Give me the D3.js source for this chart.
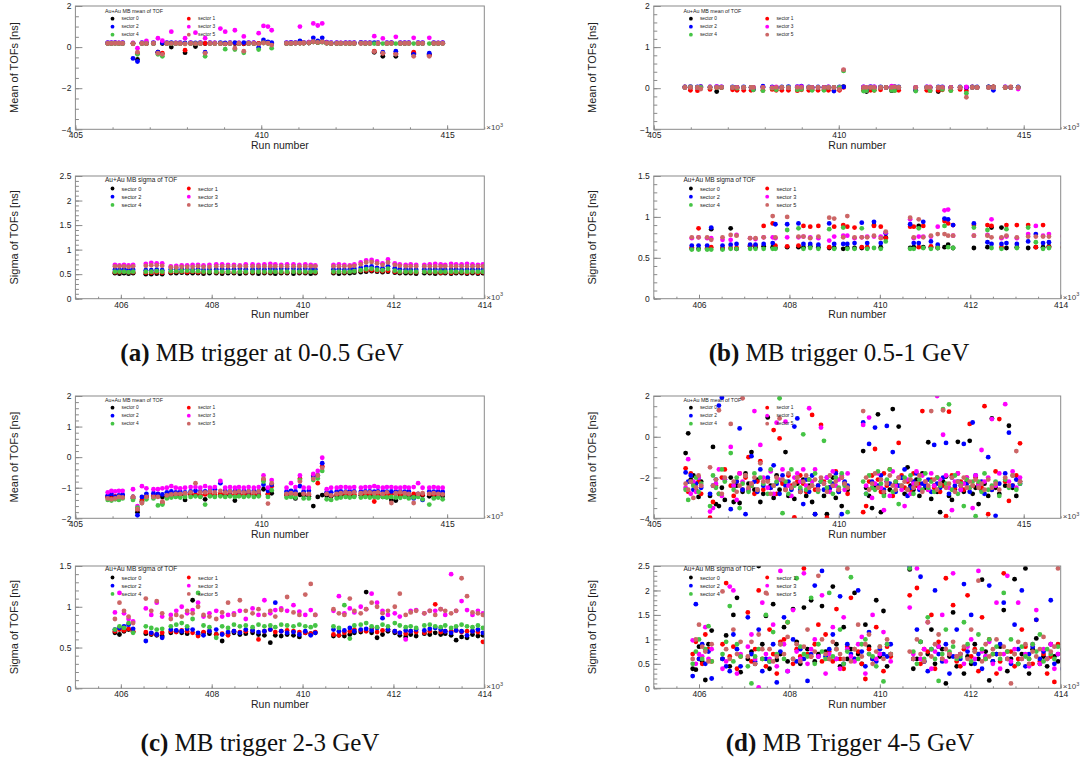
<!DOCTYPE html>
<html>
<head>
<meta charset="utf-8">
<script src="https://cdnjs.cloudflare.com/ajax/libs/d3/7.8.5/d3.min.js"></script>
<style>
  body { margin: 0; background: #fff; }
  svg { display: block; }
</style>
</head>
<body>
<script>
// ---------- data ----------
const sectors = ['sector 0', 'sector 1', 'sector 2', 'sector 3', 'sector 4', 'sector 5'];
const captionTags = ['(a)', '(b)', '(c)', '(d)'];
const captions = ['MB trigger at 0-0.5 GeV', 'MB trigger 0.5-1 GeV', 'MB trigger 2-3 GeV', 'MB Trigger 4-5 GeV'];

// run numbers (x10^3) for the 0-0.5 GeV and 2-3 GeV sets (a, c)
const runsDense = [
  405.87, 405.97, 406.07, 406.17, 406.27, 406.55, 406.67, 406.79, 406.91, 407.10,
  407.22, 407.34, 407.46, 407.58, 407.70, 407.82, 407.95, 408.10, 408.23, 408.36,
  408.49, 408.62, 408.75, 408.90, 409.03, 409.16, 409.29, 409.40, 409.53, 409.66,
  409.80, 409.93, 410.06, 410.18, 410.28, 410.68, 410.80, 410.92, 411.04, 411.14,
  411.28, 411.40, 411.52, 411.64, 411.76, 411.88, 412.03, 412.14, 412.27, 412.38,
  412.50, 412.68, 412.80, 412.92, 413.04, 413.14, 413.27, 413.38, 413.50, 413.62,
  413.74, 413.86, 413.97, 414.10, 414.22, 414.34, 414.52, 414.64, 414.76, 414.88
];
// run numbers (x10^3) for the 0.5-1 GeV set (b)
const runsSparse = [
  405.84, 405.99, 406.18, 406.27, 406.52, 406.70, 406.83, 407.13, 407.25, 407.43,
  407.63, 407.69, 407.95, 408.20, 408.31, 408.46, 408.64, 408.88, 408.99, 409.19,
  409.28, 409.44, 409.60, 409.72, 409.87, 410.02, 410.13, 410.67, 410.75, 410.86,
  410.96, 411.13, 411.28, 411.43, 411.51, 411.62, 412.08, 412.38, 412.47, 412.69,
  412.80, 413.03, 413.28, 413.45, 413.61, 413.74, 414.05, 414.18, 414.50, 414.65,
  414.85
];
// run numbers (x10^3) for the 4-5 GeV set (d)
const runsD = [
  405.86, 405.93, 406.00, 406.07, 406.14, 406.21, 406.28, 406.52, 406.60, 406.68, 406.76, 406.84, 406.92,
  407.08, 407.16, 407.24, 407.32, 407.40, 407.48, 407.56, 407.64, 407.72, 407.80, 407.88, 407.96,
  408.08, 408.16, 408.24, 408.32, 408.40, 408.48, 408.56, 408.64, 408.72, 408.80, 408.88, 408.96, 409.04, 409.12,
  409.20, 409.28, 409.36, 409.44, 409.52, 409.60, 409.68, 409.76, 409.84, 409.92, 410.00, 410.08, 410.16, 410.24,
  410.66, 410.74, 410.82, 410.90, 410.98, 411.06, 411.14, 411.22, 411.30, 411.38, 411.46, 411.54, 411.62, 411.70,
  411.78, 411.86, 411.94, 412.02, 412.10, 412.18, 412.26, 412.34, 412.42, 412.50, 412.58, 412.66, 412.74, 412.82,
  412.90, 412.98, 413.06, 413.14, 413.22, 413.30, 413.38, 413.46, 413.54, 413.62, 413.70, 413.78, 413.86, 413.94,
  414.04, 414.14, 414.24, 414.34, 414.50, 414.60, 414.70, 414.80, 414.90
];

// (a) 0-0.5 GeV, mean of TOF per sector
const meanA = [
  [0.18,0.18,0.19,0.18,0.18,0.17,-0.6,0.18,0.17,0.18, -0.25,0.17,0.18,0.0,0.18,0.18,-0.27,0.18,0.03,0.18,
   0.17,0.18,0.18,0.18,0.16,0.18,0.17,0.18,0.16,0.18, 0.18,0.17,0.22,0.2,0.16,0.18,0.18,0.19,0.2,0.19,
   0.2,0.25,0.22,0.25,0.19,0.17,0.18,0.18,0.19,0.18, 0.18,0.19,0.18,0.19,-0.25,0.18,-0.45,0.18,0.19,-0.45,
   0.18,0.18,0.19,-0.3,0.18,0.18,-0.35,0.18,0.18,0.19],
  [0.19,0.19,0.2,0.19,0.19,0.19,-0.3,0.19,0.18,0.19, -0.25,-0.3,0.19,0.19,0.19,0.18,-0.15,0.19,0.18,0.19,
   0.18,0.19,0.19,0.18,0.17,0.19,0.19,0.18,0.17,0.19, 0.19,0.18,0.22,0.2,0.18,0.19,0.19,0.2,0.2,0.2,
   0.21,0.26,0.24,0.27,0.2,0.18,0.19,0.19,0.19,0.19, 0.19,0.2,0.19,0.19,-0.2,0.19,-0.3,0.19,0.2,-0.3,
   0.19,0.19,0.19,-0.25,0.19,0.19,-0.4,0.19,0.19,0.19],
  [0.22,0.22,0.22,0.21,0.22,-0.55,-0.7,0.22,0.21,0.22, -0.25,0.21,0.22,0.22,0.21,0.22,0.2,0.22,0.21,0.22,
   -0.25,0.22,0.21,0.22,0.2,0.22,0.22,0.21,0.22,0.22, 0.22,-0.02,0.35,0.25,0.22,0.22,0.23,0.22,0.3,0.23,
   0.24,0.45,0.3,0.45,0.24,0.22,0.22,0.21,0.22,0.22, 0.22,0.23,0.22,0.22,0.22,0.22,-0.25,0.22,0.22,-0.2,
   0.22,0.22,0.22,-0.35,0.22,0.22,-0.3,0.22,0.21,0.22],
  [0.2,0.2,0.21,0.2,0.2,0.2,-0.05,0.2,0.3,0.2, 0.43,0.31,0.2,0.75,0.2,0.2,0.43,0.2,0.7,0.2,
   0.43,0.2,0.21,0.9,0.75,0.2,0.82,0.2,0.52,0.2, 0.2,0.68,1.03,1.0,0.82,0.2,0.21,0.2,1.0,0.22,
   0.24,1.15,1.05,1.15,0.22,0.2,0.2,0.2,0.2,0.21, 0.2,0.2,0.21,0.2,0.53,0.2,0.42,0.2,0.2,0.5,
   0.2,0.2,0.2,0.45,0.2,0.2,0.45,0.2,0.2,0.2],
  [0.18,0.18,0.18,0.17,0.18,0.17,-0.35,0.18,0.17,0.18, -0.35,-0.45,0.18,0.17,0.18,0.17,0.16,0.18,0.17,0.18,
   -0.45,0.18,0.17,0.17,-0.1,0.18,-0.12,0.17,-0.28,0.18, 0.17,-0.12,0.2,0.18,-0.05,0.18,0.18,0.19,0.19,0.2,
   0.21,0.25,0.22,0.24,0.19,0.18,0.18,0.18,0.18,0.18, 0.18,0.19,0.18,0.18,0.17,0.18,0.17,0.18,0.18,0.17,
   0.18,0.18,0.18,0.17,0.18,0.18,0.17,0.18,0.18,0.18],
  [0.18,0.18,0.18,0.18,0.18,0.16,-0.25,0.18,0.17,0.18, -0.3,-0.35,0.18,0.18,0.18,0.17,0.16,0.18,0.17,0.18,
   -0.3,0.18,0.17,0.18,0.16,0.18,-0.05,0.18,-0.2,0.18, 0.18,0.16,0.2,0.19,0.1,0.18,0.18,0.19,0.19,0.2,
   0.21,0.26,0.23,0.25,0.2,0.18,0.18,0.18,0.18,0.18, 0.18,0.18,0.18,0.18,-0.22,0.18,-0.3,0.18,0.18,-0.35,
   0.18,0.18,0.18,-0.45,0.18,0.18,-0.45,0.18,0.18,0.18]
];
// (a) 0-0.5 GeV, sigma of TOF per sector
const sigmaA = [
  [0.52,0.51,0.52,0.51,0.52,0.5,0.5,0.51,0.5,0.52, 0.52,0.53,0.52,0.52,0.52,0.51,0.52,0.52,0.51,0.52,
   0.52,0.51,0.52,0.52,0.51,0.52,0.52,0.51,0.52,0.52, 0.51,0.52,0.52,0.51,0.52,0.52,0.51,0.52,0.52,0.53,
   0.54,0.55,0.56,0.55,0.54,0.55,0.53,0.52,0.52,0.52, 0.51,0.52,0.52,0.51,0.52,0.52,0.51,0.52,0.52,0.51,
   0.52,0.51,0.52,0.52,0.52,0.51,0.52,0.52,0.51,0.52],
  [0.54,0.54,0.55,0.54,0.54,0.53,0.53,0.54,0.53,0.54, 0.55,0.55,0.54,0.55,0.54,0.54,0.55,0.54,0.54,0.55,
   0.54,0.55,0.54,0.54,0.55,0.54,0.54,0.55,0.54,0.54, 0.55,0.54,0.54,0.55,0.54,0.54,0.55,0.54,0.55,0.56,
   0.57,0.58,0.58,0.57,0.56,0.57,0.55,0.54,0.55,0.54, 0.54,0.55,0.54,0.54,0.53,0.54,0.53,0.54,0.54,0.53,
   0.54,0.53,0.54,0.54,0.53,0.54,0.54,0.53,0.54,0.54],
  [0.59,0.59,0.6,0.59,0.59,0.58,0.58,0.59,0.58,0.6, 0.6,0.6,0.6,0.59,0.6,0.59,0.6,0.6,0.6,0.6,
   0.6,0.61,0.6,0.6,0.61,0.6,0.61,0.6,0.61,0.61, 0.61,0.6,0.61,0.6,0.6,0.6,0.6,0.59,0.6,0.61,
   0.63,0.65,0.66,0.63,0.62,0.66,0.62,0.6,0.6,0.59, 0.59,0.6,0.59,0.6,0.59,0.59,0.59,0.6,0.59,0.59,
   0.6,0.59,0.59,0.59,0.6,0.59,0.59,0.6,0.59,0.59],
  [0.69,0.68,0.69,0.68,0.69,0.71,0.73,0.72,0.72,0.66, 0.67,0.68,0.68,0.69,0.69,0.68,0.69,0.7,0.7,0.69,
   0.69,0.68,0.7,0.7,0.69,0.7,0.71,0.7,0.69,0.7, 0.7,0.69,0.7,0.69,0.68,0.69,0.7,0.69,0.68,0.7,
   0.74,0.78,0.79,0.76,0.72,0.8,0.72,0.7,0.69,0.7, 0.69,0.69,0.7,0.71,0.7,0.69,0.71,0.7,0.7,0.71,
   0.7,0.69,0.7,0.7,0.69,0.7,0.7,0.69,0.7,0.69],
  [0.55,0.55,0.55,0.54,0.55,0.55,0.55,0.56,0.55,0.56, 0.56,0.56,0.57,0.56,0.56,0.55,0.55,0.55,0.55,0.55,
   0.55,0.55,0.55,0.55,0.55,0.55,0.55,0.55,0.55,0.55, 0.55,0.55,0.55,0.55,0.55,0.55,0.55,0.55,0.55,0.56,
   0.58,0.6,0.61,0.59,0.58,0.61,0.57,0.55,0.55,0.55, 0.55,0.55,0.55,0.55,0.55,0.55,0.55,0.55,0.55,0.55,
   0.55,0.55,0.55,0.55,0.55,0.55,0.55,0.55,0.55,0.55],
  [0.66,0.66,0.66,0.65,0.66,0.67,0.68,0.68,0.67,0.64, 0.64,0.65,0.65,0.65,0.66,0.65,0.65,0.66,0.66,0.66,
   0.66,0.66,0.66,0.66,0.66,0.66,0.66,0.66,0.66,0.66, 0.66,0.66,0.66,0.66,0.66,0.66,0.66,0.66,0.66,0.67,
   0.7,0.74,0.75,0.72,0.69,0.74,0.69,0.67,0.66,0.66, 0.66,0.66,0.66,0.66,0.66,0.66,0.66,0.66,0.66,0.66,
   0.66,0.66,0.66,0.66,0.66,0.66,0.66,0.66,0.66,0.66]
];

// (b) 0.5-1 GeV, mean of TOF per sector
const meanB = [
  [0.02,0.02,0.02,0.03,0.02,-0.08,0.02,0.02,0.02,0.02, 0.02,0.02,0.02,0.02,0.02,0.02,0.02,0.02,0.02,0.02,
   0.02,0.02,0.02,0.02,0.02,0.02,0.04,0.02,-0.08,0.02, 0.02,0.02,0.02,-0.06,0.02,0.02,0.02,0.02,0.02,-0.08,
   0.02,0.02,0.02,0.02,0.02,0.02,0.03,0.03,0.02,0.02, 0.02],
  [0.03,-0.05,-0.06,0.02,-0.03,0.02,0.02,-0.04,-0.05,-0.05, -0.05,-0.04,-0.05,-0.03,-0.05,-0.05,-0.05,-0.06,-0.04,-0.05,
   -0.04,-0.05,-0.04,-0.05,-0.05,-0.05,0.02,-0.05,-0.06,-0.05, -0.05,-0.04,0.02,-0.04,-0.05,-0.05,-0.05,-0.05,-0.06,-0.05,
   -0.04,-0.05,-0.03,-0.06,0.03,0.02,0.02,0.03,0.02,0.03, 0.02],
  [0.03,0.04,0.03,0.04,0.03,0.04,0.03,0.03,0.02,0.03, 0.02,-0.03,0.05,0.03,0.02,0.03,0.04,0.04,0.05,0.03,
   0.02,0.03,0.02,0.03,-0.07,0.03,0.03,0.03,-0.05,0.04, 0.03,0.03,0.02,0.03,0.04,0.03,-0.05,0.03,0.02,0.03,
   0.03,0.02,0.03,0.02,0.03,0.03,0.03,-0.05,0.03,0.02, 0.03],
  [0.02,0.03,0.02,0.03,0.03,0.04,0.03,0.02,0.02,0.02, 0.02,0.02,0.02,0.02,0.03,0.02,0.02,0.03,0.04,0.02,
   0.02,0.02,0.02,0.03,0.02,0.02,0.44,0.03,0.02,0.03, 0.03,0.02,0.02,0.05,0.03,0.02,0.02,0.03,0.03,0.02,
   0.02,0.02,0.02,0.03,0.02,0.02,0.02,0.02,0.03,0.02, -0.02],
  [0.02,0.03,0.02,0.02,0.02,0.02,0.02,0.02,0.0,0.02, 0.02,-0.04,-0.06,0.0,-0.04,0.02,0.02,-0.04,-0.03,0.02,
   -0.05,0.02,-0.05,0.02,0.02,0.02,0.42,-0.07,-0.06,0.02, -0.05,0.02,0.02,-0.05,-0.06,0.02,-0.07,0.02,-0.06,0.02,
   -0.03,-0.06,0.02,-0.12,0.02,0.02,0.02,0.02,0.02,0.02, 0.02],
  [0.02,0.02,0.02,-0.02,0.02,0.02,0.02,0.02,0.02,0.02, 0.02,0.02,0.02,0.01,0.02,0.02,0.01,0.02,0.02,0.02,
   0.02,0.02,0.02,0.02,0.02,-0.03,0.45,0.02,0.02,0.02, 0.02,0.02,0.02,0.02,0.03,0.02,0.02,0.02,0.02,0.02,
   0.02,0.02,0.02,-0.22,0.02,0.02,0.02,0.02,0.02,0.02, 0.02]
];
// (b) 0.5-1 GeV, sigma of TOF per sector
const sigmaB = [
  [0.61,0.61,0.61,0.85,0.61,0.86,0.61,0.64,0.63,0.64, 0.63,0.62,0.63,0.63,0.63,0.64,0.63,0.62,0.62,0.61,
   0.62,0.62,0.62,0.62,0.9,0.63,0.75,0.62,0.63,0.89, 0.63,0.63,0.62,0.63,0.66,0.62,0.62,0.63,0.87,0.87,
   0.62,0.63,0.62,0.63,0.63,0.64,0.63,0.62,0.63,0.62, 0.63],
  [0.63,0.86,0.62,0.63,0.62,0.62,0.62,0.65,0.65,0.89, 0.92,0.65,0.64,0.65,0.89,0.88,0.89,0.63,0.88,0.9,
   0.88,0.87,0.63,0.63,0.89,0.88,0.74,0.88,0.88,0.63, 0.89,0.64,0.63,0.95,0.92,0.9,0.9,0.9,0.89,0.63,
   0.9,0.9,0.9,0.63,0.9,0.63,0.63,0.9,0.63,0.88, 0.63],
  [0.65,0.65,0.65,0.87,0.65,0.66,0.67,0.66,0.66,0.67, 0.68,0.91,0.91,0.92,0.67,0.67,0.66,0.92,0.67,0.67,
   0.67,0.68,0.93,0.68,0.94,0.68,0.8,0.91,0.68,0.68, 0.94,0.7,0.66,0.98,0.97,0.9,0.92,0.69,0.67,0.67,
   0.68,0.67,0.7,0.79,0.68,0.69,0.68,0.7,0.67,0.68, 0.68],
  [0.74,0.75,0.74,0.74,0.72,0.72,0.78,0.74,0.73,0.75, 0.75,0.74,0.75,0.75,0.76,0.75,0.74,0.71,0.76,0.77,
   0.77,0.74,0.75,0.76,0.76,0.76,0.81,0.97,0.74,0.76, 0.76,0.76,0.88,1.08,1.09,0.77,0.77,0.78,0.97,0.74,
   0.76,0.74,0.79,0.89,0.77,0.79,0.77,0.78,0.76,0.77, 0.78],
  [0.6,0.6,0.6,0.6,0.6,0.61,0.61,0.61,0.61,0.61, 0.61,0.61,0.84,0.86,0.61,0.62,0.61,0.85,0.61,0.87,
   0.61,0.61,0.86,0.61,0.62,0.61,0.7,0.61,0.61,0.86, 0.62,0.61,0.62,0.89,0.63,0.62,0.87,0.84,0.62,0.61,
   0.85,0.62,0.87,0.69,0.61,0.62,0.61,0.62,0.61,0.62, 0.61],
  [0.75,0.75,0.75,0.72,0.75,0.78,0.77,0.74,0.74,0.75, 1.01,0.75,1.0,0.76,0.76,0.74,0.76,0.99,0.98,0.75,
   1.01,0.75,0.75,0.75,0.77,0.74,0.82,0.99,0.75,0.97, 0.75,0.77,0.79,0.79,0.77,0.77,0.77,0.77,0.75,0.75,
   0.77,0.75,0.76,0.76,0.76,0.76,0.76,0.77,0.75,0.76, 0.76]
];

// (c) 2-3 GeV, mean of TOF per sector
const meanC = [
  [-1.3,-1.28,-1.32,-1.3,-1.27,-1.35,-1.8,-1.45,-1.3,-1.28, -1.25,-1.3,-1.27,-1.24,-1.26,-1.25,-1.4,-1.23,-1.25,-1.27,
   -1.38,-1.24,-1.26,-1.22,-1.25,-1.25,-1.42,-1.23,-1.26,-1.22, -1.24,-1.25,-1.05,-1.22,-1.18,-1.24,-1.22,-1.35,-1.23,-1.25,
   -1.28,-1.6,-1.3,-1.24,-1.26,-1.28,-1.27,-1.25,-1.24,-1.26, -1.27,-1.25,-1.24,-1.26,-1.27,-1.25,-1.3,-1.28,-1.4,-1.42,
   -1.26,-1.24,-1.25,-1.27,-1.26,-1.25,-1.28,-1.26,-1.25,-1.27],
  [-1.3,-1.35,-1.28,-1.3,-1.3,-1.3,-1.7,-1.4,-1.28,-1.25, -1.25,-1.5,-1.25,-1.22,-1.24,-1.22,-1.22,-1.2,-1.22,-1.24,
   -1.22,-1.2,-1.22,-1.2,-1.2,-1.22,-1.21,-1.2,-1.22,-1.2, -1.2,-1.22,-0.75,-1.2,-0.95,-1.22,-1.2,-1.21,-0.7,-1.2,
   -1.22,-0.6,-0.85,-0.3,-1.2,-1.25,-1.22,-1.2,-1.22,-1.2, -1.21,-1.2,-1.22,-1.2,-1.45,-1.22,-1.2,-1.22,-1.21,-1.2,
   -1.22,-1.21,-1.22,-1.2,-1.21,-1.22,-1.2,-1.22,-1.21,-1.2],
  [-1.25,-1.2,-1.3,-1.25,-1.22,-1.3,-1.9,-1.3,-1.2,-1.18, -1.2,-1.22,-1.15,-1.12,-1.15,-1.13,-1.15,-1.12,-1.1,-1.12,
   -1.12,-1.1,-1.05,-0.85,-1.1,-1.12,-1.1,-1.12,-1.1,-1.12, -1.1,-1.12,-0.9,-1.1,-0.9,-1.12,-1.1,-1.12,-0.95,-1.12,
   -1.1,-0.65,-0.6,-0.2,-1.15,-1.15,-1.12,-1.12,-1.13,-1.12, -1.12,-1.13,-1.12,-1.12,-1.13,-1.12,-1.12,-1.13,-1.12,-1.13,
   -1.12,-1.13,-1.12,-1.35,-1.2,-1.4,-1.12,-1.13,-1.12,-1.13],
  [-1.15,-1.1,-1.12,-1.1,-1.1,-1.05,-1.6,-0.95,-1.02,-1.05, -1.05,-1.02,-1.0,-0.95,-1.0,-1.02,-1.0,-0.98,-0.98,-1.0,
   -0.95,-1.0,-0.98,-0.78,-1.0,-0.98,-1.0,-0.98,-1.0,-0.98, -1.0,-0.98,-0.6,-1.0,-0.75,-1.0,-0.85,-0.98,-0.6,-1.0,
   -1.0,-0.55,-0.45,-0.02,-1.05,-1.0,-1.0,-0.98,-0.98,-1.0, -0.98,-1.0,-0.98,-0.98,-0.95,-0.98,-1.0,-0.98,-0.98,-1.0,
   -1.0,-0.98,-1.0,-0.98,-0.85,-1.0,-1.0,-0.98,-1.0,-1.0],
  [-1.4,-1.42,-1.38,-1.4,-1.35,-1.4,-1.65,-1.5,-1.38,-1.35, -1.58,-1.55,-1.35,-1.32,-1.3,-1.32,-1.3,-1.3,-1.28,-1.3,
   -1.55,-1.28,-1.3,-1.28,-1.3,-1.28,-1.3,-1.28,-1.3,-1.28, -1.3,-1.28,-0.8,-1.3,-1.08,-1.32,-1.3,-1.32,-0.75,-1.35,
   -1.35,-0.75,-0.7,-0.45,-1.38,-1.4,-1.35,-1.32,-1.3,-1.32, -1.3,-1.32,-1.3,-1.32,-1.3,-1.32,-1.3,-1.32,-1.3,-1.32,
   -1.33,-1.3,-1.35,-1.32,-1.3,-1.38,-1.55,-1.35,-1.32,-1.38],
  [-1.35,-1.38,-1.35,-1.3,-1.32,-1.3,-1.7,-1.5,-1.3,-1.3, -1.3,-1.45,-1.25,-1.22,-1.2,-1.2,-1.18,-1.15,-0.85,-1.15,
   -1.15,-1.12,-1.15,-1.1,-1.15,-1.12,-1.15,-1.12,-1.15,-1.12, -1.15,-1.12,-0.7,-1.52,-0.85,-1.2,-1.18,-1.2,-0.8,-1.2,
   -1.2,-0.7,-0.6,-0.35,-1.2,-1.25,-1.2,-1.18,-1.15,-1.18, -1.15,-1.18,-1.15,-1.15,-1.18,-1.15,-1.2,-1.15,-1.5,-1.18,
   -1.15,-1.18,-1.2,-1.5,-1.2,-1.18,-1.2,-1.18,-1.2,-1.22]
];
// (c) 2-3 GeV, sigma of TOF per sector
const sigmaC = [
  [0.68,0.66,0.7,0.72,0.69,0.67,0.66,0.65,0.64,0.68, 0.7,0.68,0.67,1.08,0.66,0.68,0.67,0.66,0.58,0.67,
   0.68,0.66,0.67,0.68,0.66,0.65,0.56,0.65,0.64,0.66, 0.65,0.63,0.68,0.67,0.68,0.64,0.65,0.64,0.66,0.68,
   0.69,1.18,0.68,0.62,0.66,0.7,0.68,0.65,0.63,0.66, 0.64,0.67,0.66,0.68,0.66,0.67,0.65,0.59,0.63,0.62,
   0.66,0.64,0.65,0.66,0.67,0.65,0.66,0.64,0.65,0.66],
  [0.7,0.72,0.71,0.73,0.7,0.69,0.67,0.66,0.68,0.7, 0.69,0.71,0.7,0.68,0.64,0.69,0.7,0.66,0.67,0.65,
   0.7,0.69,0.7,0.71,0.6,0.7,0.72,0.69,0.7,0.71, 0.7,0.69,0.68,0.67,0.69,0.66,0.65,0.68,0.7,0.72,
   0.71,0.7,0.73,0.69,0.71,0.72,0.7,0.68,0.67,0.7, 0.69,0.68,0.7,1.03,0.69,0.7,0.7,0.71,0.69,0.7,
   0.7,0.69,0.57,0.7,0.71,0.7,0.69,0.7,0.71,0.69],
  [0.72,0.74,0.76,0.78,0.73,0.58,0.68,0.66,0.62,0.72, 0.71,0.7,0.73,0.72,0.68,0.65,0.7,0.72,0.66,0.69,
   0.7,0.68,0.72,0.71,0.69,0.7,0.72,1.05,0.7,0.68, 0.69,0.66,0.7,0.65,0.68,0.72,0.7,0.71,0.74,0.7,
   0.72,0.73,0.71,0.74,0.86,0.72,0.7,0.68,0.71,0.7, 0.72,0.71,0.73,0.74,0.72,0.7,0.68,0.71,0.7,0.65,
   0.7,0.72,0.68,0.7,0.71,0.7,0.72,0.7,0.71,0.7],
  [0.93,1.17,0.92,0.85,0.82,0.98,0.9,1.05,0.88,0.9, 0.95,1.0,0.92,0.96,1.05,0.88,0.92,0.95,0.88,0.9,
   0.92,0.95,0.85,0.98,0.9,1.08,0.92,0.96,0.98,0.95, 1.02,0.94,0.9,0.96,0.9,0.95,1.13,0.92,0.98,0.93,
   1.0,0.97,1.16,1.05,0.95,0.9,0.92,0.88,0.6,0.95, 0.96,0.92,0.95,0.95,0.97,0.9,1.4,0.95,1.07,0.96,
   0.9,0.95,0.92,0.93,0.94,0.95,0.9,0.92,0.95,0.93],
  [0.72,0.76,0.74,0.8,0.68,0.76,0.74,0.72,0.73,0.76, 0.78,0.8,0.76,0.85,1.17,0.77,0.75,0.62,0.76,0.74,
   0.78,0.76,0.77,0.75,0.78,0.76,0.77,0.75,0.78,0.77, 0.76,0.78,0.76,0.75,0.77,0.76,0.74,1.02,0.61,0.77,
   0.78,0.8,0.76,0.75,0.78,0.76,0.8,0.77,0.75,0.76, 0.74,0.77,0.78,0.76,0.75,0.77,0.74,0.76,0.78,0.76,
   0.75,0.77,0.74,0.76,0.77,0.75,0.76,0.77,0.75,0.76],
  [0.85,1.05,0.95,0.88,0.8,1.1,0.95,1.07,0.92,0.85, 0.9,0.88,0.95,0.92,1.0,0.9,0.88,0.85,0.93,1.05,
   0.9,1.08,0.95,0.92,0.97,0.9,0.95,0.88,0.96,1.12, 0.93,0.9,1.15,1.28,0.9,0.97,0.92,0.9,1.1,0.95,
   0.92,0.97,1.05,1.0,0.92,0.95,1.0,1.16,0.9,0.93, 0.95,0.92,0.95,0.9,0.97,0.95,0.92,0.95,1.35,1.13,
   0.93,0.92,0.9,0.95,0.92,0.9,0.95,0.92,0.9,0.93]
];

// (d) 4-5 GeV, mean of TOF per sector (runsD)
const meanD = [
  [-0.8,0.17,-2.1,-1.9,-2.6,-2.95,-2.2,-2.9,-0.5,-3.3,-3.4,-2.5,-3.1,
   -2.0,-3.2,-2.4,-3.25,-2.7,-1.8,-2.3,-0.75,-2.6,-2.1,-3.2,-2.8,
   0.95,-2.4,-3.0,-1.9,-2.6,-2.2,-0.75,-2.9,-2.5,-3.05,-2.3,-2.7,-2.1,-2.9,
   -2.4,-3.2,-3.8,-2.6,-2.2,-2.9,-3.8,-2.5,-2.0,-3.0,-2.7,-3.4,-2.3,-2.6,
   -0.7,-2.5,-2.9,-3.5,-2.4,1.1,-3.7,-2.8,-2.2,-2.6,1.36,-2.3,0.5,-2.0,
   -2.8,-1.5,-2.4,-2.6,-2.1,-2.9,-1.8,-2.5,-0.27,-3.05,-2.4,-2.7,-3.7,-2.2,
   -1.95,-2.9,-3.1,-2.6,-0.25,-2.4,-2.7,-2.2,-0.2,-2.8,-2.5,-3.3,-2.6,-2.3,
   -2.9,0.9,-2.5,-2.8,-2.4,0.54,-2.5,-2.9,-2.2],
  [-1.55,-2.7,-1.8,-2.3,-2.5,-2.2,-2.8,-3.97,-3.2,-2.4,-2.8,-2.0,-1.6,
   -2.4,-2.9,-2.2,-1.8,-2.6,-2.0,-1.0,-2.4,-2.8,-2.2,-1.2,-2.6,
   -2.1,-2.5,0.33,-2.8,-0.08,-2.3,-2.6,-1.9,-2.4,-3.95,-2.2,-1.9,-2.3,-2.7,
   -2.1,1.07,-2.6,-2.4,0.58,-2.2,-3.97,-2.5,-2.4,-1.7,-2.6,-2.0,-2.3,-2.8,
   -3.7,-3.4,-2.2,-1.9,-0.6,-2.1,-2.7,-1.8,-2.4,-1.6,-2.9,-2.2,-0.3,-1.9,
   -2.5,-2.2,-2.6,-1.8,-2.4,-2.3,1.26,-2.3,-2.6,-2.1,-2.5,-2.0,-2.7,-2.4,
   -3.9,1.23,-1.9,-2.5,-1.8,-2.2,-2.6,-2.0,0.63,-2.4,-2.0,-2.3,-2.5,1.5,
   -3.8,-2.6,-1.7,0.87,-2.2,-3.15,-2.4,-1.9,-0.32],
  [-1.75,-2.2,-1.9,-2.6,-2.3,-2.0,-2.5,-2.8,-2.4,-2.1,1.53,1.92,-2.1,
   -3.55,-2.4,-2.2,0.41,-2.6,-3.8,-2.6,-0.95,-2.2,-2.7,-1.6,-2.4,
   -2.0,-2.5,-1.4,-2.3,-2.8,-1.9,-2.4,-2.2,-2.6,0.5,0.9,-2.6,-3.3,-2.1,
   -2.7,-1.9,-3.8,-2.4,-2.2,-2.6,-2.0,-2.5,-2.3,-1.8,-2.7,-3.8,-2.2,-2.4,
   0.7,-2.8,-0.35,-2.2,0.45,-2.4,-1.9,-2.6,0.53,-2.3,-0.75,-2.7,-2.4,-2.0,
   -1.6,-2.9,-2.5,-2.2,-1.8,-2.6,-2.3,-2.4,-2.1,-2.7,-0.4,-2.3,-2.5,-2.0,
   -0.3,-2.8,-2.0,-2.4,-2.2,-2.6,-0.35,-2.3,-2.7,0.7,-1.9,-2.4,-2.2,-2.8,
   -1.0,-2.6,-3.88,-2.3,-1.8,0.2,-2.4,-2.1,-2.3],
  [-2.5,-1.1,-2.8,-2.2,-2.7,-2.0,-2.4,-3.67,-3.5,-2.3,-1.6,-2.9,-2.1,
   -0.5,-2.4,-3.1,-1.8,-2.2,-1.9,-2.6,-2.3,1.26,-2.6,-0.4,-2.0,
   -2.5,-1.7,-2.8,0.69,-2.1,-1.6,0.74,-2.4,-2.9,-2.0,-1.8,-2.2,-1.6,-2.4,
   1.4,-2.2,-1.6,-2.6,0.45,-2.3,-2.0,-2.7,-1.7,-2.4,-2.1,-1.9,-2.6,-1.8,
   0.58,-2.4,0.94,-3.0,-2.3,-1.8,-2.5,-3.6,-2.2,-2.9,-1.7,-2.4,-2.0,-2.6,
   -3.4,-2.1,-2.8,-2.3,-1.7,-2.5,-1.9,-2.2,-2.6,-1.8,-2.4,2.0,-2.1,0.1,
   -1.9,-2.5,-3.6,-2.2,-1.8,-2.6,-2.3,-2.0,-2.5,-3.5,-1.9,-2.4,-0.65,-2.2,
   -2.0,0.87,-2.4,-1.8,1.6,-2.2,-1.7,-2.5,-2.0],
  [-2.6,-3.1,-2.2,-2.4,-2.0,-2.7,-2.3,-3.4,-1.9,-2.5,-2.8,-1.6,-2.2,
   -0.8,-2.6,-2.0,-3.5,-2.3,-1.9,-2.7,-2.4,-1.8,-2.6,-2.0,-2.3,
   -2.8,-1.6,-2.4,-2.2,1.89,-3.75,-2.2,-2.8,-1.6,-2.4,-2.0,-2.5,0.12,-2.6,
   -2.1,-2.4,-1.8,-2.7,-2.2,-0.2,-2.5,-2.2,-2.8,-2.0,-2.5,-1.8,-2.4,-3.7,
   -2.2,-2.8,-1.9,-2.5,-2.6,-1.7,-2.3,-2.9,-2.1,-1.6,-2.7,-2.2,-3.3,-2.4,
   -2.0,-2.6,-1.9,-2.8,-2.3,-2.1,-2.6,-1.8,-2.5,-2.2,-2.7,-2.0,-2.4,1.36,
   -2.3,1.59,-2.6,-1.9,-2.8,-2.3,-3.4,-2.1,-2.5,-2.2,-3.9,-2.2,-2.7,-1.8,
   -2.6,-2.4,-2.2,-2.9,-2.1,-2.5,-1.9,-2.6,-2.3],
  [-2.3,-2.6,-2.2,-3.0,-2.5,-1.9,-2.4,-1.5,-2.4,-2.1,1.3,-2.8,-2.0,
   0.63,-2.2,-2.7,-2.4,1.89,-1.9,-2.5,-2.3,-2.0,-2.6,-1.3,-2.2,
   -2.2,-2.8,-2.4,-2.0,0.9,-2.1,-2.6,-1.8,-2.5,-2.3,-2.0,-2.7,-2.2,-1.9,
   -2.5,-2.4,-2.1,-2.6,-2.0,-2.3,-2.7,-1.9,-2.4,-2.2,-2.6,-2.0,-2.3,-2.5,
   1.26,-2.0,-2.6,-2.3,-1.8,-2.5,-2.1,-2.7,-2.3,-1.9,-2.4,-2.6,-2.0,-2.4,
   -2.2,-2.6,-2.1,-2.5,-2.3,-1.9,-2.7,-2.2,-2.4,1.26,-2.1,-2.6,-2.3,1.3,
   -2.5,-2.3,-2.0,-2.7,-2.2,-2.4,-2.0,-2.5,-2.2,-2.4,-2.1,-2.5,-2.3,-2.6,
   -2.1,-2.5,-2.3,-2.6,-2.0,-2.4,-1.9,-0.7,-2.2]
];
// (d) 4-5 GeV, sigma of TOF per sector (runsD)
const sigmaD = [
  [0.4,0.38,0.85,0.55,0.17,0.9,1.18,0.6,1.08,0.45,1.5,1.85,0.33,
   0.6,0.75,0.5,2.5,0.9,1.48,0.4,1.72,0.58,0.7,1.25,0.55,
   1.62,0.95,0.5,1.65,0.8,1.8,0.55,0.7,1.68,0.75,0.6,2.08,0.9,0.45,
   1.25,0.6,0.8,1.95,0.7,0.5,1.3,0.85,0.6,1.8,0.65,1.58,0.45,0.7,
   2.43,0.4,0.6,0.95,0.55,0.7,1.2,0.5,0.85,0.8,0.1,0.65,1.55,0.45,
   0.7,0.3,0.65,0.5,0.9,0.6,2.22,0.75,0.16,0.55,0.7,0.85,1.6,0.35,
   0.6,2.23,0.5,0.7,2.45,0.3,0.8,1.02,0.5,0.65,0.45,0.9,0.65,0.55,
   0.8,0.35,0.6,1.9,0.4,0.55,0.7,0.5,0.6],
  [0.7,0.95,0.6,0.5,1.1,0.8,0.55,0.9,2.15,0.65,0.85,0.4,0.65,
   1.55,0.55,0.8,2.0,0.6,0.45,1.2,0.7,0.3,0.95,1.0,1.35,
   0.5,0.8,0.65,2.45,0.7,0.65,0.9,1.3,0.55,1.1,0.75,0.55,1.62,0.6,
   0.4,0.85,1.85,0.6,0.75,0.5,0.19,0.8,0.6,1.25,0.7,0.35,0.85,0.65,
   1.9,0.6,2.05,0.5,0.8,0.75,1.5,0.4,0.95,0.6,2.25,0.7,1.7,0.55,
   0.45,0.8,1.9,0.65,0.8,0.35,1.45,0.6,1.0,0.7,0.3,0.55,2.35,0.75,
   0.75,0.45,0.6,1.2,0.85,0.6,0.5,1.4,0.55,0.7,0.3,0.65,0.13,0.9,
   0.7,1.2,0.5,0.8,0.4,0.9,0.6,0.55,0.7],
  [0.25,1.72,0.6,0.9,0.5,0.75,0.2,0.6,0.45,0.35,1.1,0.8,0.45,
   1.45,0.7,0.55,1.2,0.35,0.6,0.55,0.9,0.12,0.75,1.45,0.35,
   1.0,0.55,0.8,0.6,0.15,0.7,2.1,0.65,2.4,0.65,0.8,1.1,0.6,1.88,
   0.5,0.9,0.7,0.6,2.0,0.75,0.45,1.15,0.6,0.55,0.8,0.7,0.65,0.9,
   2.48,0.6,1.2,2.28,0.55,0.35,0.8,2.0,0.7,0.55,0.9,0.3,0.65,1.2,
   0.6,2.13,0.75,1.5,0.5,0.7,0.4,0.65,2.1,0.55,0.7,0.9,1.75,0.6,
   0.5,1.3,0.8,2.0,0.45,0.7,0.85,1.4,0.6,0.75,0.6,1.8,0.5,0.7,
   0.4,0.65,0.9,0.5,0.7,0.6,0.8,0.55,0.7],
  [0.98,0.5,0.7,0.65,1.25,0.6,0.8,0.4,0.55,2.08,2.0,0.3,0.7,
   0.85,1.1,0.6,0.02,1.75,0.7,0.6,1.3,0.45,2.4,0.9,0.35,
   1.6,0.75,0.6,2.35,0.5,0.8,1.0,0.65,1.9,0.3,0.7,1.25,0.6,0.4,
   1.45,0.8,0.65,0.55,0.9,1.05,0.3,0.7,1.5,0.6,0.7,1.15,0.9,0.55,
   1.65,0.7,2.45,0.6,0.8,1.35,0.4,0.75,0.85,1.5,0.55,0.7,2.35,0.65,
   0.7,0.5,0.85,1.0,0.6,2.4,0.75,0.65,0.95,0.5,1.75,0.4,0.7,2.3,
   0.55,0.8,1.75,0.6,0.7,0.45,0.9,1.6,0.5,0.8,0.6,0.9,0.4,0.7,
   0.6,0.8,0.7,0.5,0.9,0.6,0.7,0.4,0.8],
  [0.5,0.75,1.0,0.6,0.8,1.27,0.55,0.7,0.95,1.68,0.55,0.9,0.65,
   0.45,0.1,0.65,0.8,0.6,1.5,0.55,1.15,0.7,0.9,0.6,1.35,
   0.6,2.25,0.85,0.7,0.65,1.85,0.5,0.9,0.75,0.6,1.95,0.65,0.8,1.2,
   0.5,0.75,2.27,0.8,0.6,0.9,1.0,0.7,0.65,0.45,0.85,0.14,0.9,0.7,
   2.45,0.75,0.5,0.95,0.6,1.45,0.8,0.6,0.15,0.7,1.2,0.75,0.85,0.6,
   0.65,1.35,0.9,0.55,0.75,1.1,0.8,0.6,1.0,0.7,0.85,0.6,1.95,0.75,
   1.0,0.7,0.5,0.85,0.65,0.6,0.9,0.75,1.1,0.55,0.8,0.7,0.6,0.85,
   0.75,0.55,0.8,0.7,0.6,0.9,0.75,0.55,0.8],
  [0.6,1.0,1.3,0.85,0.75,0.55,0.9,1.98,0.8,0.6,1.2,0.7,0.95,
   0.65,0.95,0.5,1.1,0.8,1.95,0.8,0.55,0.65,0.9,0.7,1.05,
   0.6,0.9,0.55,0.85,1.2,0.65,0.75,2.3,1.0,0.7,0.6,0.95,0.8,0.7,
   0.6,2.45,0.55,0.8,1.3,0.65,0.9,1.1,0.5,0.75,0.85,0.6,1.0,0.7,
   0.75,0.6,1.0,0.7,0.55,1.35,0.65,0.9,1.1,0.6,0.8,0.7,0.95,0.65,
   0.7,0.85,0.6,1.2,0.75,2.2,0.55,0.9,0.65,0.8,1.0,0.7,0.85,0.6,
   0.1,0.7,0.95,0.6,0.9,0.5,0.75,0.65,0.8,1.05,0.6,0.75,0.85,2.45,
   0.6,0.7,0.6,0.9,0.5,0.75,0.65,0.8,0.6]
];

// ---------- chart ----------
const colors = ['#000000', '#ff0000', '#0000ff', '#ff00ff', '#45c445', '#cc6666'];
const FONT = '"Liberation Sans", Arial, Helvetica, sans-serif';
const frameCol = '#8a8a8a';

const svg = d3.select('body').append('svg')
    .attr('width', 1083)
    .attr('height', 767)
    .style('font-family', FONT);

const colL = { left: 75.4, right: 484.3 },
      colR = { left: 653.8, right: 1060.7 };

const meanTitle = 'Au+Au MB mean of TOF',
      sigmaTitle = 'Au+Au MB sigma of TOF';

const panels = [
  { ...colL, top: 6, bottom: 129.3, xDom: [405, 416], xMajor: 5, xMinor: 1, yDom: [-4, 2], yMajor: 2, yMinor: 0.5,
    runs: runsDense, vals: meanA, yTitle: 'Mean of TOFs [ns]', leg: meanTitle, legY: 11, big: false },
  { ...colL, top: 176, bottom: 298.7, xDom: [405, 414], xMajor: 2, xMinor: 0.5, yDom: [0, 2.5], yMajor: 0.5, yMinor: 0.1,
    runs: runsDense, vals: sigmaA, yTitle: 'Sigma of TOFs [ns]', leg: sigmaTitle, legY: 180, big: true },
  { ...colR, top: 6, bottom: 129.3, xDom: [405, 416], xMajor: 5, xMinor: 1, yDom: [-1, 2], yMajor: 1, yMinor: 0.2,
    runs: runsSparse, vals: meanB, yTitle: 'Mean of TOFs [ns]', leg: meanTitle, legY: 11, big: false },
  { ...colR, top: 176, bottom: 298.7, xDom: [405, 414], xMajor: 2, xMinor: 0.5, yDom: [0, 1.5], yMajor: 0.5, yMinor: 0.1,
    runs: runsSparse, vals: sigmaB, yTitle: 'Sigma of TOFs [ns]', leg: sigmaTitle, legY: 180, big: true },
  { ...colL, top: 396, bottom: 518.3, xDom: [405, 416], xMajor: 5, xMinor: 1, yDom: [-2, 2], yMajor: 1, yMinor: 0.2,
    runs: runsDense, vals: meanC, yTitle: 'Mean of TOFs [ns]', leg: meanTitle, legY: 400, big: false },
  { ...colL, top: 566, bottom: 688.3, xDom: [405, 414], xMajor: 2, xMinor: 0.5, yDom: [0, 1.5], yMajor: 0.5, yMinor: 0.1,
    runs: runsDense, vals: sigmaC, yTitle: 'Sigma of TOFs [ns]', leg: sigmaTitle, legY: 569, big: true },
  { ...colR, top: 396, bottom: 518.3, xDom: [405, 416], xMajor: 5, xMinor: 1, yDom: [-4, 2], yMajor: 2, yMinor: 0.5,
    runs: runsD, vals: meanD, yTitle: 'Mean of TOFs [ns]', leg: meanTitle, legY: 400, big: false },
  { ...colR, top: 566, bottom: 688.3, xDom: [405, 414], xMajor: 2, xMinor: 0.5, yDom: [0, 2.5], yMajor: 0.5, yMinor: 0.1,
    runs: runsD, vals: sigmaD, yTitle: 'Sigma of TOFs [ns]', leg: sigmaTitle, legY: 569, big: true }
];

// tick values on a regular grid inside a domain
function gridTicks(dom, step) {
  const start = Math.ceil(dom[0] / step - 1e-9) * step;
  return d3.range(start, dom[1] + 1e-9, step).map(v => +v.toFixed(4));
}

function styleAxis(sel, size) {
  sel.select('.domain').remove();
  sel.attr('font-family', FONT).attr('font-size', size);
  sel.selectAll('.tick line').attr('stroke', frameCol);
  sel.selectAll('.tick text').attr('fill', '#222');
}

panels.forEach((p, k) => {
  const x = d3.scaleLinear().domain(p.xDom).range([p.left, p.right]);
  const y = d3.scaleLinear().domain(p.yDom).range([p.bottom, p.top]);
  const g = svg.append('g');

  const clipId = 'clip' + k;
  svg.append('clipPath').attr('id', clipId)
    .append('rect')
      .attr('x', p.left).attr('y', p.top)
      .attr('width', p.right - p.left).attr('height', p.bottom - p.top);

  // data markers, sector 0 first so that sector 5 lands on top
  const pts = g.append('g').attr('clip-path', `url(#${clipId})`);
  p.vals.forEach((series, s) => {
    pts.selectAll(null)
      .data(series.map((v, i) => ({ run: p.runs[i], v })).filter(d => d.run != null))
      .enter()
      .append('circle')
        .attr('cx', d => x(d.run))
        .attr('cy', d => y(d.v))
        .attr('r', 2.4)
        .attr('fill', colors[s]);
  });

  // frame
  g.append('rect')
    .attr('x', p.left).attr('y', p.top)
    .attr('width', p.right - p.left).attr('height', p.bottom - p.top)
    .attr('fill', 'none').attr('stroke', frameCol).attr('stroke-width', 1);

  // x axis (ticks point into the frame)
  const xg = g.append('g').attr('transform', `translate(0,${p.bottom})`);
  xg.append('g')
    .call(d3.axisBottom(x).tickValues(gridTicks(p.xDom, p.xMinor)).tickSize(-2).tickFormat(''))
    .call(s => styleAxis(s, 8));
  xg.append('g')
    .call(d3.axisBottom(x).tickValues(gridTicks(p.xDom, p.xMajor)).tickSize(-4).tickPadding(3).tickFormat(d3.format('d')))
    .call(s => styleAxis(s, 8.5));

  // y axis
  const yg = g.append('g').attr('transform', `translate(${p.left},0)`);
  yg.append('g')
    .call(d3.axisLeft(y).tickValues(gridTicks(p.yDom, p.yMinor)).tickSize(-3.5).tickFormat(''))
    .call(s => styleAxis(s, 8));
  yg.append('g')
    .call(d3.axisLeft(y).tickValues(gridTicks(p.yDom, p.yMajor)).tickSize(-7).tickPadding(4).tickFormat(d3.format('~g')))
    .call(s => styleAxis(s, 8.5));

  // exponent marker
  const ex = g.append('text')
    .attr('x', p.right + 2).attr('y', p.bottom + 1)
    .attr('font-size', 8).attr('fill', '#444')
    .text('×10');
  ex.append('tspan').attr('dy', -3.5).attr('font-size', 5.5).text('3');

  // axis titles
  g.append('text')
    .attr('x', (p.left + p.right) / 2).attr('y', p.bottom + 19.5)
    .attr('text-anchor', 'middle').attr('font-size', 10.5).attr('fill', '#222')
    .text('Run number');
  g.append('text')
    .attr('transform', `translate(${p.left - 57.6},${(p.top + p.bottom) / 2}) rotate(-90)`)
    .attr('text-anchor', 'middle').attr('font-size', 11).attr('fill', '#222')
    .text(p.yTitle);

  // legend
  const lx = p.left + 29.6;
  const rows = p.big ? [8.5, 16.7, 24.9] : [7.7, 15.7, 23.7];
  const tSize = p.big ? 6.5 : 5.3, eSize = p.big ? 5.6 : 4.8;
  const leg = g.append('g');
  leg.append('text')
    .attr('x', lx).attr('y', p.legY + tSize * 0.36)
    .attr('font-size', tSize).attr('fill', '#222')
    .text(p.leg);
  sectors.forEach((name, s) => {
    const col = s % 2, row = Math.floor(s / 2);
    const cy = p.legY + rows[row];
    leg.append('circle')
      .attr('cx', lx + (col ? 83.8 : 7.5)).attr('cy', cy)
      .attr('r', 1.9).attr('fill', colors[s]);
    leg.append('text')
      .attr('x', lx + (col ? 93 : 16.5)).attr('y', cy + eSize * 0.36)
      .attr('font-size', eSize).attr('fill', '#222')
      .text(name);
  });
});

// sub-figure captions
const capPos = [[262, 361], [839, 361], [260, 751], [850, 751]];
captions.forEach((c, i) => {
  const t = svg.append('text')
    .attr('x', capPos[i][0]).attr('y', capPos[i][1])
    .attr('text-anchor', 'middle')
    .attr('font-family', '"Liberation Serif", "DejaVu Serif", serif')
    .attr('font-size', 25)
    .attr('fill', '#111');
  t.append('tspan').attr('font-weight', 'bold').text(captionTags[i]);
  t.append('tspan').text(' ' + c);
});
</script>
</body>
</html>
